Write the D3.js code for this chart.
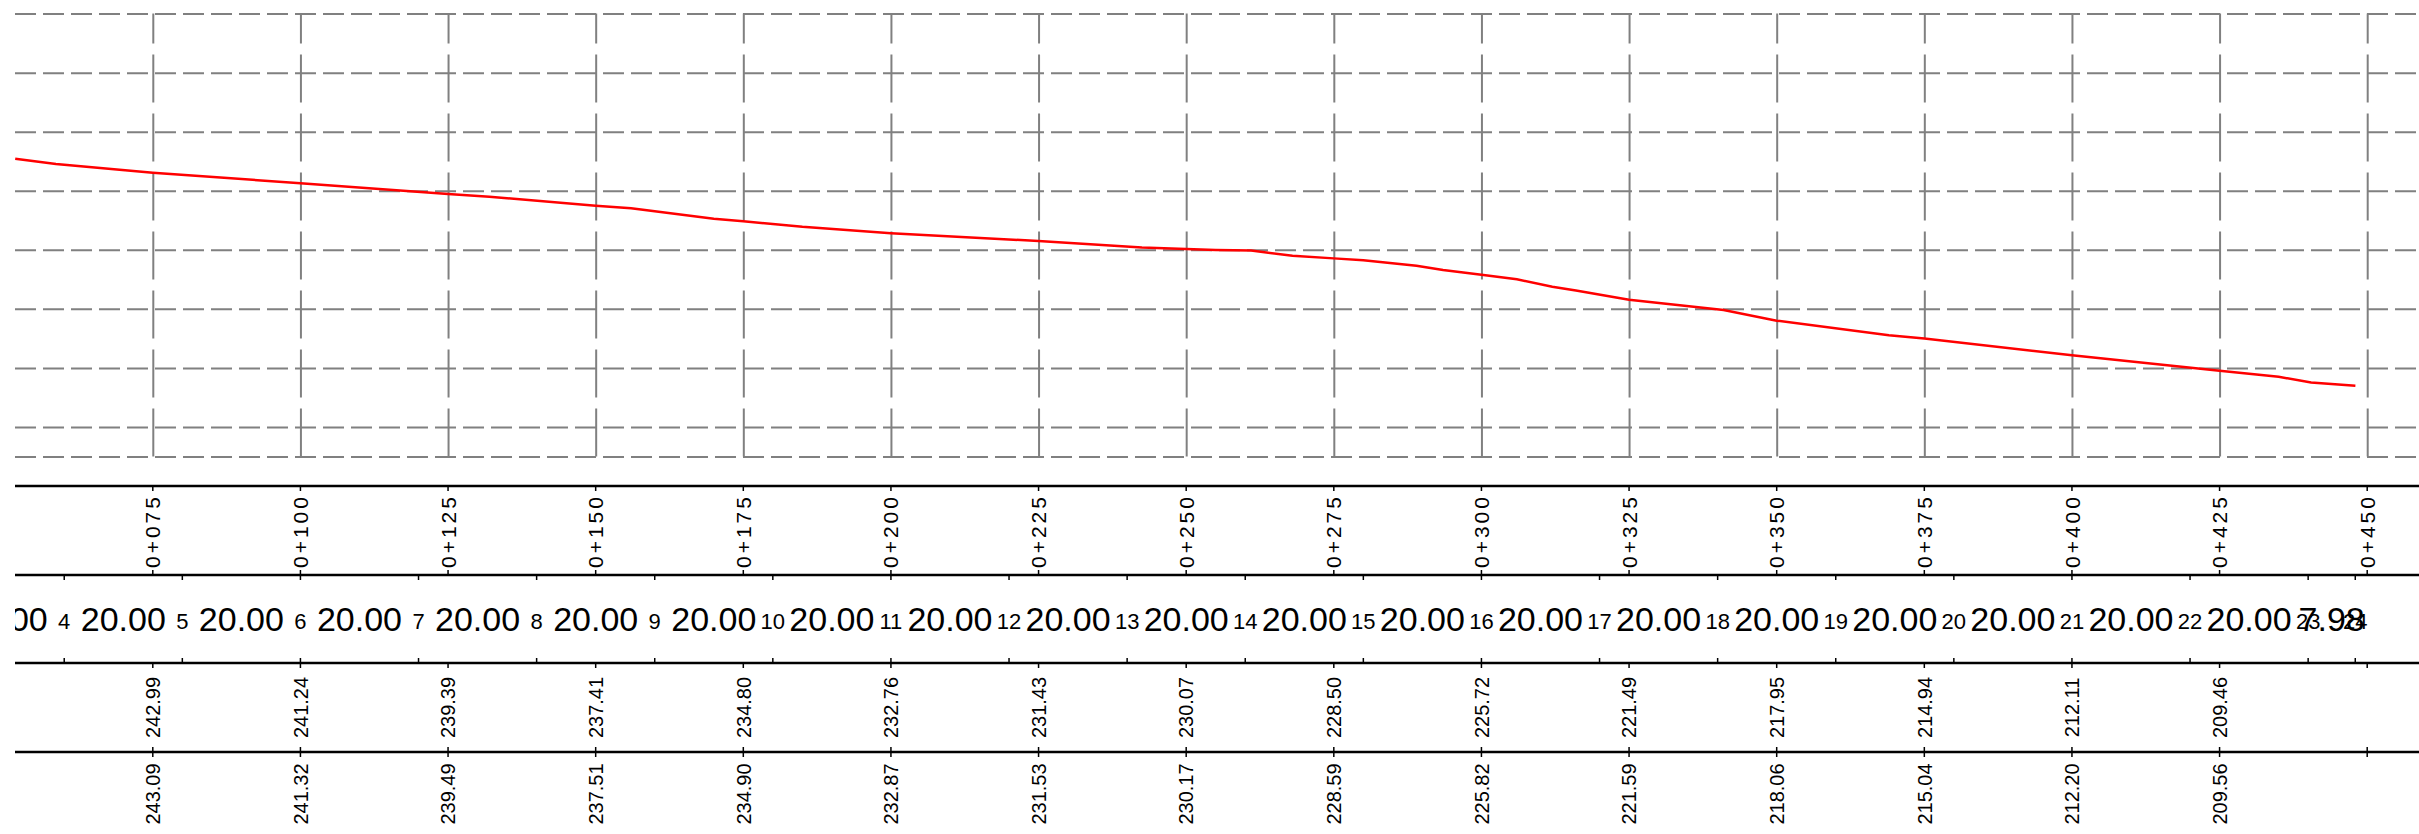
<!DOCTYPE html>
<html>
<head>
<meta charset="utf-8">
<script src="https://cdn.jsdelivr.net/npm/d3@7/dist/d3.min.js"></script>
<style>
  body { margin: 0; background: #fff; }
  text { font-family: "Liberation Sans", Arial, sans-serif; fill: #000; }
</style>
</head>
<body>
<svg width="2419" height="834"></svg>
<script>
// chainage of the labelled stations
const stations = [75, 100, 125, 150, 175, 200, 225, 250, 275, 300, 325, 350, 375, 400, 425, 450]
const stationLabels = ['0+075', '0+100', '0+125', '0+150', '0+175', '0+200', '0+225', '0+250',
  '0+275', '0+300', '0+325', '0+350', '0+375', '0+400', '0+425', '0+450']

// elevations printed in the two bottom rows (no value at 0+450)
const row3Values = ['242.99', '241.24', '239.39', '237.41', '234.80', '232.76', '231.43', '230.07',
  '228.50', '225.72', '221.49', '217.95', '214.94', '212.11', '209.46']
const row4Values = ['243.09', '241.32', '239.49', '237.51', '234.90', '232.87', '231.53', '230.17',
  '228.59', '225.82', '221.59', '218.06', '215.04', '212.20', '209.56']

// horizontal grid levels (m)
const elevTicks = [270, 260, 250, 240, 230, 220, 210, 200, 195]

// survey points and the segment lengths between them
const pointStations = [40, 60, 80, 100, 120, 140, 160, 180, 200, 220, 240, 260, 280, 300,
  320, 340, 360, 380, 400, 420, 440, 447.98]
const pointNumbers = [3, 4, 5, 6, 7, 8, 9, 10, 11, 12, 13, 14, 15, 16, 17, 18, 19, 20, 21, 22, 23, 24]
const segLengths = ['20.00', '20.00', '20.00', '20.00', '20.00', '20.00', '20.00', '20.00', '20.00',
  '20.00', '20.00', '20.00', '20.00', '20.00', '20.00', '20.00', '20.00', '20.00', '20.00',
  '20.00', '7.98']

// profile line
const profileStations = [51.7, 58.6, 75, 100, 125, 132, 150, 156, 170, 175, 185, 200, 225, 242.5,
  250, 255, 261, 268, 275, 280, 289, 293.5, 300, 306, 312, 316, 325, 341, 350, 369, 375, 400,
  425, 435, 440.5, 448]
const profileElev = [245.43, 244.55, 243.04, 241.28, 239.44, 239.0, 237.46, 237.05, 235.25, 234.85,
  233.9, 232.82, 231.48, 230.4, 230.12, 229.97, 229.88, 229.0, 228.55, 228.25, 227.3, 226.6,
  225.77, 225.0, 223.75, 223.1, 221.54, 219.8, 218.0, 215.55, 214.99, 212.15, 209.51, 208.5,
  207.55, 207.0]

let svg = d3.select("svg")
let W = +svg.attr("width")
let H = +svg.attr("height")
let left = 15

let x = d3.scaleLinear().domain([75, 450]).range([152.8, 2367.2])
let y = d3.scaleLinear().domain([195, 270]).range([456.5, 13.6])

svg.append("defs").append("clipPath").attr("id", "clip")
  .append("rect").attr("x", left).attr("y", 0).attr("width", W - left).attr("height", H)

let g = svg.append("g").attr("clip-path", "url(#clip)")

// grid
let hGrid = g.append("g")
  .attr("transform", "translate(" + left + ",0)")
  .call(d3.axisLeft(y).tickValues(elevTicks).tickSize(-(W - left)).tickFormat(""))
hGrid.select(".domain").remove()
hGrid.selectAll("line")
  .attr("stroke", "#808080").attr("stroke-width", 2).attr("stroke-dasharray", "21,7")

let vGrid = g.append("g")
  .attr("transform", "translate(0," + y(195) + ")")
  .call(d3.axisBottom(x).tickValues(stations).tickSize(-(y(195) - y(270))).tickFormat(""))
vGrid.select(".domain").remove()
vGrid.selectAll("line")
  .attr("stroke", "#808080").attr("stroke-width", 2).attr("stroke-dasharray", "48,11")

// profile
let line = d3.line()
  .x((d, i) => x(profileStations[i]))
  .y(d => y(d))

g.append("path")
  .datum(profileElev)
  .attr("d", line)
  .attr("fill", "none")
  .attr("stroke", "#ff0000")
  .attr("stroke-width", 2.5)

// table rows
const rows = [486, 575, 663, 752]
rows.forEach(r => {
  g.append("line")
    .attr("x1", left).attr("x2", W)
    .attr("y1", r).attr("y2", r)
    .attr("stroke", "#000").attr("stroke-width", 2.5)
})

function ticks(list, y1, y2) {
  g.append("g").selectAll("line")
    .data(list)
    .enter().append("line")
    .attr("x1", d => x(d)).attr("x2", d => x(d))
    .attr("y1", y1).attr("y2", y2)
    .attr("stroke", "#000").attr("stroke-width", 1.5)
}
ticks(stations, rows[0], rows[0] + 5)
ticks(stations, rows[1] - 5, rows[1])
ticks(pointStations, rows[1], rows[1] + 5)
ticks(pointStations, rows[2] - 5, rows[2])
ticks(stations, rows[2], rows[2] + 5)
ticks(stations, rows[3] - 5, rows[3] + 5)

// station labels
g.append("g").selectAll("text")
  .data(stationLabels)
  .enter().append("text")
  .attr("transform", (d, i) => "translate(" + x(stations[i]) + ",568) rotate(-90)")
  .attr("dy", "0.36em")
  .attr("font-size", 21)
  .attr("letter-spacing", 3)
  .text(d => d)

// point numbers and segment lengths
g.append("g").selectAll("text")
  .data(pointNumbers)
  .enter().append("text")
  .attr("x", (d, i) => x(pointStations[i]))
  .attr("y", 628.5)
  .attr("text-anchor", "middle")
  .attr("font-size", 22)
  .text(d => d)

g.append("g").selectAll("text")
  .data(segLengths)
  .enter().append("text")
  .attr("x", (d, i) => x((pointStations[i] + pointStations[i + 1]) / 2))
  .attr("y", 631)
  .attr("text-anchor", "middle")
  .attr("font-size", 34)
  .text(d => d)

// elevation rows
g.append("g").selectAll("text")
  .data(row3Values)
  .enter().append("text")
  .attr("transform", (d, i) => "translate(" + x(stations[i]) + ",707.5) rotate(-90)")
  .attr("dy", "0.36em")
  .attr("text-anchor", "middle")
  .attr("font-size", 20)
  .text(d => d)

g.append("g").selectAll("text")
  .data(row4Values)
  .enter().append("text")
  .attr("transform", (d, i) => "translate(" + x(stations[i]) + ",794) rotate(-90)")
  .attr("dy", "0.36em")
  .attr("text-anchor", "middle")
  .attr("font-size", 20)
  .text(d => d)
</script>
</body>
</html>
